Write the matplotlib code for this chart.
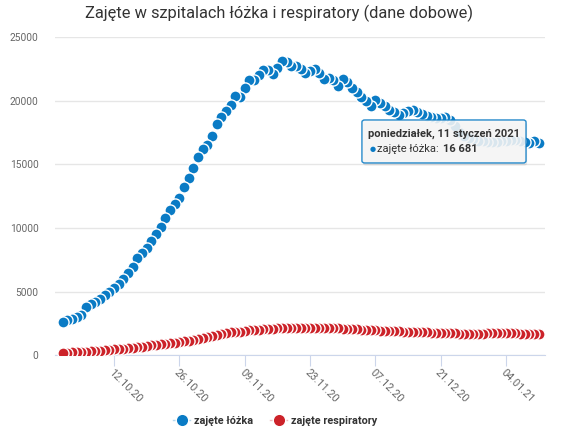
import numpy as np
import pandas as pd
import matplotlib
matplotlib.use("Agg")
import matplotlib.pyplot as plt
import matplotlib.dates as mdates
from matplotlib.colors import to_rgba
from matplotlib.lines import Line2D
from matplotlib.patches import FancyBboxPatch

plt.rcParams['font.family'] = ['Roboto', 'DejaVu Sans']

# dane dobowe 01.10.2020 - 11.01.2021
dates = pd.date_range("2020-10-01", "2021-01-11", freq="D")

lozka = [2620, 2730, 2880, 3020, 3150, 3800, 4000, 4200, 4420, 4690,
         4960, 5280, 5630, 6020, 6430, 6920, 7600, 8060, 8400, 8980,
         9500, 10040, 10760, 11440, 11850, 12330, 13250, 13900, 14700, 15540,
         16160, 16510, 17200, 18180, 18700, 19200, 19620, 20350, 20300, 21000,
         21600, 21650, 22050, 22400, 22420, 22100, 22580, 23100, 23000, 22700,
         22720, 22450, 22200, 22300, 22480, 22150, 21720, 21800, 21600, 21150,
         21680, 21500, 21000, 20650, 20300, 20000, 19550, 20050, 19850, 19550,
         19300, 19100, 18900, 19050, 19150, 19250, 19120, 18950, 18800, 18680,
         18600, 18620, 18700, 18450, 18000, 17500, 17200, 17100, 16950, 16850,
         16800, 16780, 16760, 16780, 16800, 16850, 16900, 16880, 16850, 16750,
         16640, 16800, 16681]

respiratory = [180, 200, 215, 230, 250, 270, 290, 310, 340, 370,
               410, 450, 480, 520, 560, 600, 640, 680, 720, 770,
               810, 860, 900, 940, 980, 1020, 1080, 1150, 1220, 1300,
               1380, 1450, 1520, 1600, 1670, 1740, 1790, 1830, 1860, 1900,
               1940, 1980, 2010, 2050, 2070, 2090, 2110, 2130, 2140, 2150,
               2160, 2150, 2150, 2160, 2170, 2170, 2160, 2140, 2120, 2100,
               2080, 2060, 2040, 2020, 2000, 1980, 1960, 1950, 1930, 1910,
               1900, 1880, 1870, 1860, 1850, 1840, 1830, 1810, 1800, 1780,
               1760, 1750, 1740, 1730, 1720, 1700, 1690, 1680, 1690, 1700,
               1700, 1710, 1720, 1740, 1760, 1750, 1730, 1710, 1700, 1690,
               1680, 1660, 1650]

tick_dates = pd.date_range("2020-10-12", "2021-01-04", freq="14D")
yticks = [0, 5000, 10000, 15000, 20000, 25000]

blue = '#0a7bc5'
red = '#cc2229'

fig = plt.figure(figsize=(5.62, 4.30), dpi=100)
ax = fig.add_axes([0.098, 0.174, 0.872, 0.74])

# wcześniejsze punkty rysowane na wierzchu
ax.scatter(dates[::-1], respiratory[::-1], s=64, color=red, edgecolors='white',
           linewidths=1.0, zorder=3)
ax.scatter(dates[::-1], lozka[::-1], s=64, color=blue, edgecolors='white',
           linewidths=1.0, zorder=4)

ax.set_ylim(0, 25000)
ax.set_yticks(yticks)
ax.set_xlim(dates[0] - pd.Timedelta(days=1.6), dates[-1] + pd.Timedelta(days=1.4))
ax.set_xticks(tick_dates)
ax.xaxis.set_major_formatter(mdates.DateFormatter("%d.%m.%y"))

ax.grid(axis='y', color='#e6e6e6', linewidth=1)
ax.set_axisbelow(True)
for s in ['top', 'right', 'left']:
    ax.spines[s].set_visible(False)
ax.spines['bottom'].set_color('#ccd6eb')
ax.tick_params(axis='y', length=0, labelsize=7.3, labelcolor='#666666', pad=12)
ax.tick_params(axis='x', length=8, color='#ccd6eb', labelsize=7.8,
               labelcolor='#666666', pad=1)
for lab in ax.get_xticklabels():
    lab.set_rotation(-45)
    lab.set_ha('left')
    lab.set_rotation_mode('anchor')

fig.text(0.497, 0.97, "Zajęte w szpitalach łóżka i respiratory (dane dobowe)",
         ha='center', va='center', fontsize=11.8, color='#333333')

handles = [Line2D([], [], color=to_rgba(blue, 0.3), lw=1, marker='o', markersize=9,
                  markerfacecolor=blue, markeredgecolor='white'),
           Line2D([], [], color=to_rgba(red, 0.3), lw=1, marker='o', markersize=9,
                  markerfacecolor=red, markeredgecolor='white')]
leg = fig.legend(handles, ["zajęte łóżka", "zajęte respiratory"], loc='center',
                 bbox_to_anchor=(0.49, 0.022), ncol=2, frameon=False, handlelength=1.5,
                 handletextpad=0.4, columnspacing=1.6,
                 prop={'weight': 'bold', 'size': 7.8})
for t in leg.get_texts():
    t.set_color('#333333')

# tooltip
shadow = FancyBboxPatch((0.646, 0.615), 0.292, 0.1, boxstyle="round,pad=0,rounding_size=0.005",
                        transform=fig.transFigure, facecolor='#000000', alpha=0.08,
                        edgecolor='none', zorder=9)
box = FancyBboxPatch((0.644, 0.621), 0.292, 0.1, boxstyle="round,pad=0,rounding_size=0.005",
                     transform=fig.transFigure, facecolor='#f7f7f7', alpha=0.88,
                     edgecolor=blue, linewidth=1, zorder=10)
fig.add_artist(shadow)
fig.add_artist(box)
fig.text(0.655, 0.688, "poniedziałek, 11 styczeń 2021", fontsize=8, weight='bold',
         color='#333333', va='center', zorder=11)
fig.text(0.657, 0.653, "●", fontsize=5, color=blue, va='center', zorder=11)
lbl = fig.text(0.671, 0.653, "zajęte łóżka:", fontsize=8, color='#333333',
               va='center', zorder=11)
fig.canvas.draw()
bb = lbl.get_window_extent().transformed(fig.transFigure.inverted())
fig.text(bb.x1 + 0.008, 0.653, "16 681", fontsize=8, weight='bold', color='#333333',
         va='center', zorder=11)

fig.savefig("out.png", dpi=100)
